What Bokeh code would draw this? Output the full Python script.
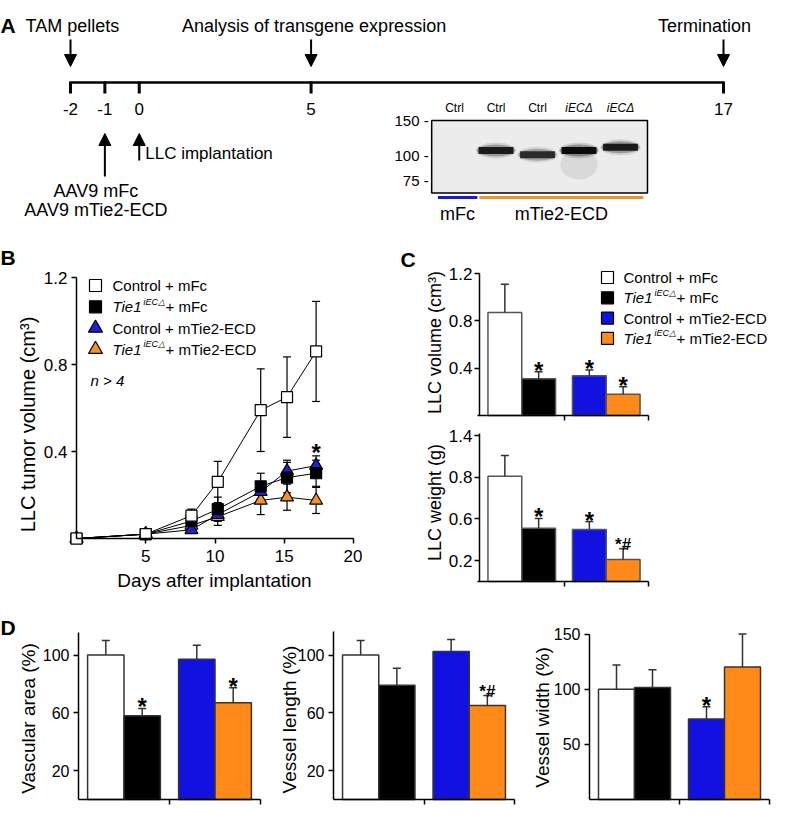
import math
from bokeh.plotting import figure
from bokeh.models import Range1d, FixedTicker, Arrow, NormalHead, LogScale
from bokeh.layouts import column, row
from bokeh.embed import file_html
from bokeh.resources import INLINE
from bokeh.core.properties import value

FONT = "Liberation Sans"

# ---------------- data ----------------
# Panel A: experimental timeline (days)
timeline_days = [-2, -1, 0, 5, 17]
top_event_days = [-2, 5, 17]
top_event_labels = ["TAM pellets", "Analysis of transgene expression", "Termination"]
aav_day = -1
aav_labels = ["AAV9 mFc", "AAV9 mTie2-ECD"]
llc_day = 0
llc_label = "LLC implantation"

# Panel A: western blot
lanes = [1, 2, 3, 4, 5]
lane_labels = ["Ctrl", "Ctrl", "Ctrl", "iECΔ", "iECΔ"]
mw_markers = [150, 100, 75]
band_lanes = [2, 3, 4, 5]
band_mw = [106, 101, 106, 110]
band_strength = [0.9, 0.8, 1.0, 0.9]
group_names = ["mFc", "mTie2-ECD"]
group_first_lane = [1, 2]
group_last_lane = [1, 5]

# Panel B: tumour growth
days = [0, 5, 8.3, 10.2, 13.3, 15.2, 17.3]
vol_ctrl_mfc = [0.0, 0.02, 0.105, 0.26, 0.59, 0.65, 0.86]
sem_ctrl_mfc = [0.0, 0.01, 0.03, 0.095, 0.19, 0.185, 0.23]
vol_tie1_mfc = [0.0, 0.02, 0.08, 0.135, 0.24, 0.28, 0.30]
sem_tie1_mfc = [0.0, 0.01, 0.03, 0.055, 0.06, 0.07, 0.06]
vol_ctrl_ecd = [0.0, 0.02, 0.04, 0.11, 0.215, 0.31, 0.335]
sem_ctrl_ecd = [0.0, 0.005, 0.015, 0.03, 0.04, 0.05, 0.045]
vol_tie1_ecd = [0.0, 0.02, 0.06, 0.10, 0.175, 0.19, 0.175]
sem_tie1_ecd = [0.0, 0.005, 0.02, 0.04, 0.065, 0.06, 0.06]
b_star_days = [17.3]
b_star_text = ["*"]

# Panels C and D (order: Control+mFc, Tie1+mFc, Control+mTie2-ECD, Tie1+mTie2-ECD)
bar_colors = ["white", "black", "#1212E0", "#FF8A1A"]
c_volume = [0.87, 0.31, 0.335, 0.18]
c_volume_sem = [0.24, 0.06, 0.05, 0.063]
c_volume_marks = ["", "*", "*", "*"]
c_weight = [1.01, 0.51, 0.50, 0.21]
c_weight_sem = [0.20, 0.095, 0.075, 0.105]
c_weight_marks = ["", "*", "*", "*#"]
c_weight_ticks = [0.2, 0.6, 1.0, 1.4]
c_weight_tick_labels = ["0.2", "0.6", "0.8", "1.4"]
d_area = [100, 58, 97, 67]
d_area_sem = [10, 5, 9.7, 10.4]
d_area_marks = ["", "*", "", "*"]
d_length = [100, 79, 102.4, 65]
d_length_sem = [10, 11.8, 8.3, 7]
d_length_marks = ["", "", "", "*#"]
d_width = [100, 101.5, 73, 120]
d_width_sem = [22, 16, 11, 30]
d_width_marks = ["", "", "*", ""]


def tx(p, x, y, text, size, align="center", baseline="middle", style="normal", color="black", **kw):
    p.text(x=x, y=y, text=text, text_font=value(FONT), text_font_size=f"{size}px",
           text_align=align, text_baseline=baseline, text_font_style=style,
           text_color=color, **kw)


class Panel:
    """A figure occupying page box [x0,x1]x[y0,y1]; data value 0 sits at page (ox, oy)."""

    def __init__(self, x0, x1, y0, y1, ox, ppx, oy, ppy, axes=True):
        self.ox, self.ppx, self.oy, self.ppy = ox, ppx, oy, ppy
        self.p = figure(width=x1 - x0, height=y1 - y0,
                        x_range=Range1d(self.fx(x0), self.fx(x1)),
                        y_range=Range1d(self.fy(y1), self.fy(y0)),
                        output_backend="svg", toolbar_location=None, min_border=0,
                        x_axis_type="linear" if axes else None,
                        y_axis_type="linear" if axes else None)
        p = self.p
        p.outline_line_color = None
        p.background_fill_color = "white"
        p.border_fill_color = "white"
        if axes:
            p.grid.visible = False
            p.xaxis.fixed_location = 0
            p.yaxis.fixed_location = 0
            for ax in list(p.xaxis) + list(p.yaxis):
                ax.axis_line_width = 1.5
                ax.axis_line_color = "black"
                ax.major_tick_line_width = 1.5
                ax.major_tick_line_color = "black"
                ax.major_tick_in = 0
                ax.major_tick_out = 5
                ax.minor_tick_line_color = None
                ax.major_label_text_font = FONT
                ax.major_label_text_color = "black"

    def fx(self, px):
        return (px - self.ox) / self.ppx

    def fy(self, py):
        return (self.oy - py) / self.ppy

    def title_y(self, px, py, text, size):
        tx(self.p, [self.fx(px)], [self.fy(py)], [text], size, angle=math.pi / 2)

    def stars(self, xs, caps, marks, gap=8):
        for x, c, m in zip(xs, caps, marks):
            if not m:
                continue
            if m == "*":
                size, lift = 24, gap - 0.27 * 24
            else:
                size, lift = 17, 4
            tx(self.p, [x], [c + lift / self.ppy], [m], size, baseline="alphabetic",
               style="bold")


# ================= Panel A =================
A_PPD = (731 - 78) / 19.0          # px per day on the timeline
LANE_PX, LANE1_PX = 41.5, 462.0    # blot lane spacing
MW_K, MW_L0, MW_Y0 = 199.5, 2.017, 159.67


def mw_at(py):
    return 10 ** (MW_L0 - (py - MW_Y0) / MW_K)


A = Panel(8, 782, 8, 248, 78 + 2 * A_PPD, A_PPD, 0, 1, axes=False)
pa = A.p
pa.y_range = Range1d(248, 8)   # page pixel rows for free annotations
pa.extra_x_ranges = {"px": Range1d(8, 782),
                     "lane": Range1d(1 - (LANE1_PX - 8) / LANE_PX, 1 + (782 - LANE1_PX) / LANE_PX)}
pa.extra_y_ranges = {"mw": Range1d(mw_at(248), mw_at(8))}
pa.extra_y_scales = {"mw": LogScale()}

pa.segment(x0=[min(timeline_days)], y0=[90], x1=[max(timeline_days)], y1=[90],
           line_width=2.5, line_color="black")
pa.segment(x0=timeline_days, y0=[89] * len(timeline_days), x1=timeline_days,
           y1=[101] * len(timeline_days), line_width=3, line_color="black")
tx(pa, timeline_days, [116] * len(timeline_days), [str(d) for d in timeline_days], 17)


def arrow(x, ys, ye):
    pa.add_layout(Arrow(end=NormalHead(size=12, fill_color="black", line_color="black"),
                        x_start=x, y_start=ys, x_end=x, y_end=ye,
                        line_width=2, line_color="black"))


for d in top_event_days:
    arrow(d, 47, 74)
tx(pa, [top_event_days[0]], [33], [top_event_labels[0]], 18, align="left", x_offset=-45)
tx(pa, [top_event_days[1]], [33], [top_event_labels[1]], 18, x_offset=3)
tx(pa, [top_event_days[2]], [33], [top_event_labels[2]], 18, x_offset=-19)
arrow(aav_day, 184, 141)
arrow(llc_day, 168, 141)
tx(pa, [llc_day], [161], [llc_label], 17, align="left", x_offset=6)
tx(pa, [aav_day, aav_day], [198, 217], aav_labels, 18, x_offset=-9)

# western blot
pa.quad(left=[min(lanes) - 0.55], right=[max(lanes) + 0.65], bottom=[65], top=[max(mw_markers)],
        fill_color="#ececec", line_color="black", line_width=1.5,
        x_range_name="lane", y_range_name="mw")
pa.ellipse(x=[4], y=[90], width=0.9, height=30, height_units="screen",
           fill_color="black", fill_alpha=0.08, line_color=None,
           x_range_name="lane", y_range_name="mw")
for w, h, a in [(0.97, 16, 0.12), (0.92, 12, 0.3)]:
    pa.ellipse(x=band_lanes, y=band_mw, width=w, height=h, height_units="screen",
               fill_color="black", fill_alpha=[a * s for s in band_strength], line_color=None,
               x_range_name="lane", y_range_name="mw")
pa.rect(x=band_lanes, y=band_mw, width=0.84, height=7, height_units="screen",
        fill_color="black", fill_alpha=[0.92 * s for s in band_strength], line_color=None,
        x_range_name="lane", y_range_name="mw")
tx(pa, [min(lanes) - 0.55] * 3, mw_markers, [f"{m} -" for m in mw_markers], 15,
   align="right", x_offset=-3, x_range_name="lane", y_range_name="mw")
plain = [i for i, l in enumerate(lane_labels) if l == "Ctrl"]
ital = [i for i, l in enumerate(lane_labels) if l != "Ctrl"]
tx(pa, [lanes[i] for i in plain], [115] * len(plain), [lane_labels[i] for i in plain], 12,
   x_range_name="lane")
tx(pa, [lanes[i] for i in ital], [115] * len(ital), [lane_labels[i] for i in ital], 12,
   style="italic", x_range_name="lane")
g_x0 = [f - 0.4 for f in group_first_lane]
g_x1 = [l + 0.55 for l in group_last_lane]
pa.segment(x0=g_x0, y0=[205, 205], x1=g_x1, y1=[205, 205], line_width=3,
           line_color=["#1a1ad6", "#F39325"], x_range_name="lane")
tx(pa, [(a + b) / 2 for a, b in zip(g_x0, g_x1)], [221, 221], group_names, 18,
   x_range_name="lane")
tx(pa, [8], [33], ["A"], 21, align="left", style="bold", x_range_name="px")

# ================= Panel B =================
B = Panel(8, 370, 248, 614, 84, 13.85, 546, 217.5)
pb = B.p
pb.xaxis.bounds = (0, 20)
pb.yaxis.bounds = (0, 1.2)
pb.xaxis.ticker = FixedTicker(ticks=[5, 10, 15, 20])
pb.yaxis.ticker = FixedTicker(ticks=[0.4, 0.8, 1.2])
pb.xaxis.major_label_text_font_size = "17px"
pb.yaxis.major_label_text_font_size = "17px"
pb.xaxis.major_label_standoff = 6
pb.yaxis.major_label_standoff = 4
B.title_y(35, 432, "LLC tumor volume (cm³)", 20)
tx(pb, [B.fx(222)], [B.fy(588)], ["Days after implantation"], 19)
tx(pb, [B.fx(8)], [B.fy(265)], ["B"], 21, align="left", style="bold")

b_series = [
    (vol_ctrl_mfc, sem_ctrl_mfc, "square", "white", 11),
    (vol_tie1_mfc, sem_tie1_mfc, "square", "black", 11),
    (vol_ctrl_ecd, sem_ctrl_ecd, "triangle", "#1F1FD6", 13),
    (vol_tie1_ecd, sem_tie1_ecd, "triangle", "#F39325", 13),
]
for vals, sems, mk, col, sz in b_series:
    pb.line(days, vals, line_color="black", line_width=1)
for vals, sems, mk, col, sz in b_series:
    xs = [d for d, s in zip(days, sems) if s > 0]
    lo = [v - s for v, s in zip(vals, sems) if s > 0]
    hi = [v + s for v, s in zip(vals, sems) if s > 0]
    pb.segment(x0=xs, y0=lo, x1=xs, y1=hi, line_color="black", line_width=1.2)
    pb.scatter(x=xs + xs, y=lo + hi, marker="dash", size=8, line_color="black", line_width=1.2)
for vals, sems, mk, col, sz in reversed(b_series):
    pb.scatter(x=days, y=vals, marker=mk, size=sz, fill_color=col, line_color="black",
               line_width=1.2)
star_cap = [v + s for d, v, s in zip(days, vol_ctrl_ecd, sem_ctrl_ecd) if d in b_star_days]
B.stars(b_star_days, star_cap, b_star_text, gap=10)

leg_labels = [["Control + mFc"], ["Tie1", "iEC△", "+ mFc"], ["Control + mTie2-ECD"],
              ["Tie1", "iEC△", "+ mTie2-ECD"]]


def draw_legend(P, mk_px, txt_px, row0_py, dy, markers):
    p = P.p
    for i, (pieces, (mk, col, sz)) in enumerate(zip(leg_labels, markers)):
        py = row0_py + i * dy
        p.scatter(x=[P.fx(mk_px)], y=[P.fy(py)], marker=mk, size=sz, fill_color=col,
                  line_color="black", line_width=1.2)
        if len(pieces) == 1:
            tx(p, [P.fx(txt_px)], [P.fy(py)], pieces, 15, align="left")
        else:
            tx(p, [P.fx(txt_px)], [P.fy(py)], [pieces[0]], 15, align="left", style="italic")
            tx(p, [P.fx(txt_px + 31)], [P.fy(py - 5)], [pieces[1]], 9, align="left", style="italic")
            tx(p, [P.fx(txt_px + 53)], [P.fy(py)], [pieces[2]], 15, align="left")


draw_legend(B, 103, 120, 293, 21.3,
            [("square", "white", 12), ("square", "black", 12),
             ("triangle", "#1F1FD6", 14), ("triangle", "#F39325", 14)])
tx(pb, [B.fx(98)], [B.fy(388)], ["n > 4"], 15, align="left", style="italic")

# ================= Panels C and D =================
bar_x = [0.75 + (i // 2) * 2.5 + (i % 2) for i in range(4)]


def bar_panel(box, ox, ppx, oy, ppy, vals, sems, marks, yticks, ybounds, tick_fs, outline,
              xbounds=(0, 5), overrides=None, std=4):
    P = Panel(*box, ox, ppx, oy, ppy)
    p = P.p
    p.xaxis.ticker = FixedTicker(ticks=[2.5, 5])
    p.xaxis.bounds = xbounds
    p.xaxis.major_label_text_color = None
    p.yaxis.ticker = FixedTicker(ticks=yticks)
    p.yaxis.bounds = ybounds
    p.yaxis.major_label_text_font_size = f"{tick_fs}px"
    p.yaxis.major_label_standoff = std
    if overrides:
        p.yaxis.major_label_overrides = overrides
    p.vbar(x=bar_x, top=vals, bottom=0, width=1.0, fill_color=bar_colors,
           line_color=outline, line_width=1.5)
    tops = [v + s for v, s in zip(vals, sems)]
    p.segment(x0=bar_x, y0=vals, x1=bar_x, y1=tops, line_color="#333333", line_width=1.5)
    p.scatter(x=bar_x, y=tops, marker="dash", size=8, line_color="#333333", line_width=1.5)
    P.stars(bar_x, tops, marks)
    return P


C1 = bar_panel((370, 782, 248, 431), 487, 33.8, 423, 118.33,
               c_volume, c_volume_sem, c_volume_marks, [0.4, 0.8, 1.2], (0, 1.2), 17,
               "#555555", xbounds=(-0.06, 5), std=2)
C1.title_y(442, 350, "LLC volume (cm³)", 18)
tx(C1.p, [C1.fx(408)], [C1.fy(267)], ["C"], 21, align="left", style="bold")
draw_legend(C1, 615, 631, 285, 20.3, [("square", c, 12) for c in bar_colors])

C2 = bar_panel((370, 782, 431, 614), 487, 33.8, 589, 104.2,
               c_weight, c_weight_sem, c_weight_marks, c_weight_ticks, (0, 1.42), 17,
               "#555555", xbounds=(-0.06, 5), std=2,
               overrides=dict(zip(c_weight_ticks, c_weight_tick_labels)))
C2.title_y(442, 510, "LLC weight (g)", 18)

D1 = bar_panel((8, 270, 614, 821), 86, 36.4, 807, 1.445,
               d_area, d_area_sem, d_area_marks, [20, 60, 100], (0, 115.5), 16, "#333333")
D1.title_y(35.5, 726, "Vascular area (%)", 19)
tx(D1.p, [D1.fx(8)], [D1.fy(635)], ["D"], 21, align="left", style="bold")
D2 = bar_panel((270, 527, 614, 821), 341, 36.2, 807, 1.445,
               d_length, d_length_sem, d_length_marks, [20, 60, 100], (0, 116), 16, "#333333")
D2.title_y(297, 727, "Vessel length (%)", 19)
D3 = bar_panel((527, 782, 614, 821), 597, 36.0, 807, 1.1033,
               d_width, d_width_sem, d_width_marks, [50, 100, 150], (0, 150), 16, "#333333")
D3.title_y(549.5, 725, "Vessel width (%)", 19)

layout = column(pa, row(pb, column(C1.p, C2.p)), row(D1.p, D2.p, D3.p))
open("out.html", "w").write(file_html(layout, INLINE))
